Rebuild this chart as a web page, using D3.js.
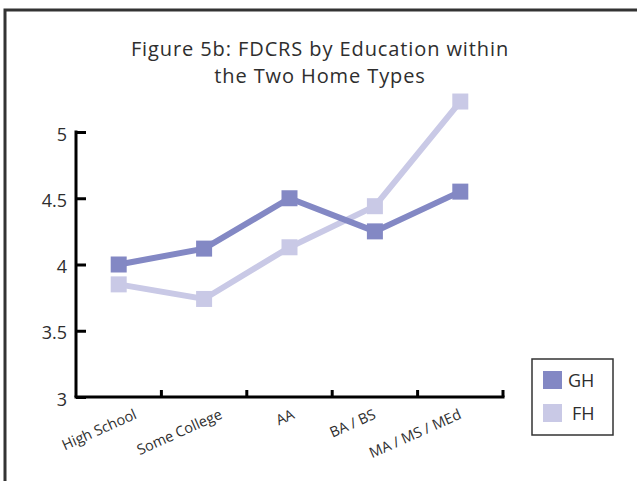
<!DOCTYPE html>
<html>
<head>
<meta charset="utf-8">
<script src="https://cdn.jsdelivr.net/npm/d3@7"></script>
<style>
  html, body { margin: 0; padding: 0; background: #fff; }
  svg { display: block; }
  text { font-family: "Open Sans", "Noto Sans", sans-serif; fill: #2e2e2e; }
</style>
</head>
<body>
<svg id="chart" width="637" height="481"></svg>
<script>
// Education levels along the x axis
const categories = ["High School", "Some College", "AA", "BA / BS", "MA / MS / MEd"];
// Mean FDCRS scores by home type
const ghValues = [4.0, 4.12, 4.5, 4.25, 4.55];
const fhValues = [3.85, 3.74, 4.13, 4.44, 5.23];
const yTicks = [3, 3.5, 4, 4.5, 5];
const seriesNames = ["GH", "FH"];
const seriesColors = ["#8388c4", "#c9c9e6"];

// Horizontal nudge for each slanted category label (layout only)
const labelNudge = [19, 19, 6, 2, 2];

const svg = d3.select("#chart");

// Outer frame (runs off the right and bottom edges)
svg.append("path")
  .attr("d", "M5,490 L5,10 L650,10")
  .attr("fill", "none")
  .attr("stroke", "#333")
  .attr("stroke-width", 3);

// Title, two centred lines
const titleLines = ["Figure 5b: FDCRS by Education within", "the Two Home Types"];
svg.selectAll("text.title").data(titleLines).join("text")
  .attr("class", "title")
  .attr("text-anchor", "middle")
  .attr("x", 320)
  .attr("y", (d, i) => 56 + i * 27)
  .style("font-size", "20px")
  .style("letter-spacing", "0.9px")
  .text(d => d);

const x = d3.scaleBand().domain(categories).range([76, 503]);
const y = d3.scaleLinear().domain([3, 5]).range([397, 132]);

// Y axis: ticks point inward
const yAxis = svg.append("g")
  .attr("transform", "translate(76,0)")
  .call(d3.axisRight(y).tickValues(yTicks).tickSize(10).tickFormat(d3.format("")));
yAxis.select(".domain").attr("stroke", "#000").attr("stroke-width", 3)
  .attr("d", `M0,${y(5) - 1.5}V${y(3)}`);
yAxis.selectAll(".tick line").attr("stroke", "#000").attr("stroke-width", 3);
yAxis.selectAll(".tick text")
  .attr("x", -9).attr("dy", "0.45em")
  .attr("text-anchor", "end")
  .style("font-size", "18px")
  .style("font-family", "'Open Sans', sans-serif")
  .attr("fill", "#2e2e2e");

// X axis: tick marks at band boundaries, pointing up
const xAxis = svg.append("g").attr("transform", `translate(0,${y(3)})`);
xAxis.append("line")
  .attr("x1", 74.5).attr("x2", x.range()[1] + 1.5)
  .attr("stroke", "#000").attr("stroke-width", 3);
const bounds = categories.map(c => x(c) + x.bandwidth());
xAxis.selectAll("line.tk").data(bounds).join("line")
  .attr("class", "tk")
  .attr("x1", d => d).attr("x2", d => d)
  .attr("y1", 0).attr("y2", -7)
  .attr("stroke", "#000").attr("stroke-width", 3);
xAxis.selectAll("text.cat").data(categories).join("text")
  .attr("class", "cat")
  .attr("text-anchor", "end")
  .attr("transform", (d, i) => `translate(${x(d) + x.bandwidth() / 2 + labelNudge[i]},${21}) rotate(-24)`)
  .style("font-size", "14.5px")
  .text(d => d);

// Series lines and square markers
const series = [ghValues, fhValues];
const line = d3.line().x((d, i) => x(categories[i]) + x.bandwidth() / 2).y(d => y(d));
// draw FH first so GH sits on top
[1, 0].forEach(s => {
  const g = svg.append("g");
  g.append("path")
    .attr("d", line(series[s]))
    .attr("fill", "none")
    .attr("stroke", seriesColors[s])
    .attr("stroke-width", 6)
    .attr("stroke-linejoin", "miter");
  g.selectAll("rect").data(series[s]).join("rect")
    .attr("x", (d, i) => x(categories[i]) + x.bandwidth() / 2 - 8)
    .attr("y", d => y(d) - 8)
    .attr("width", 16).attr("height", 16)
    .attr("fill", seriesColors[s]);
});

// Legend
const legend = svg.append("g");
legend.append("rect")
  .attr("x", 532).attr("y", 359).attr("width", 81).attr("height", 76)
  .attr("fill", "none").attr("stroke", "#333").attr("stroke-width", 1.5);
seriesNames.forEach((n, i) => {
  legend.append("rect")
    .attr("x", 543).attr("y", 371 + i * 33).attr("width", 19).attr("height", 18)
    .attr("fill", seriesColors[i]);
  legend.append("text")
    .attr("x", 568 + i * 4).attr("y", 387 + i * 33)
    .style("font-size", "18px")
    .text(n);
});
</script>
</body>
</html>
